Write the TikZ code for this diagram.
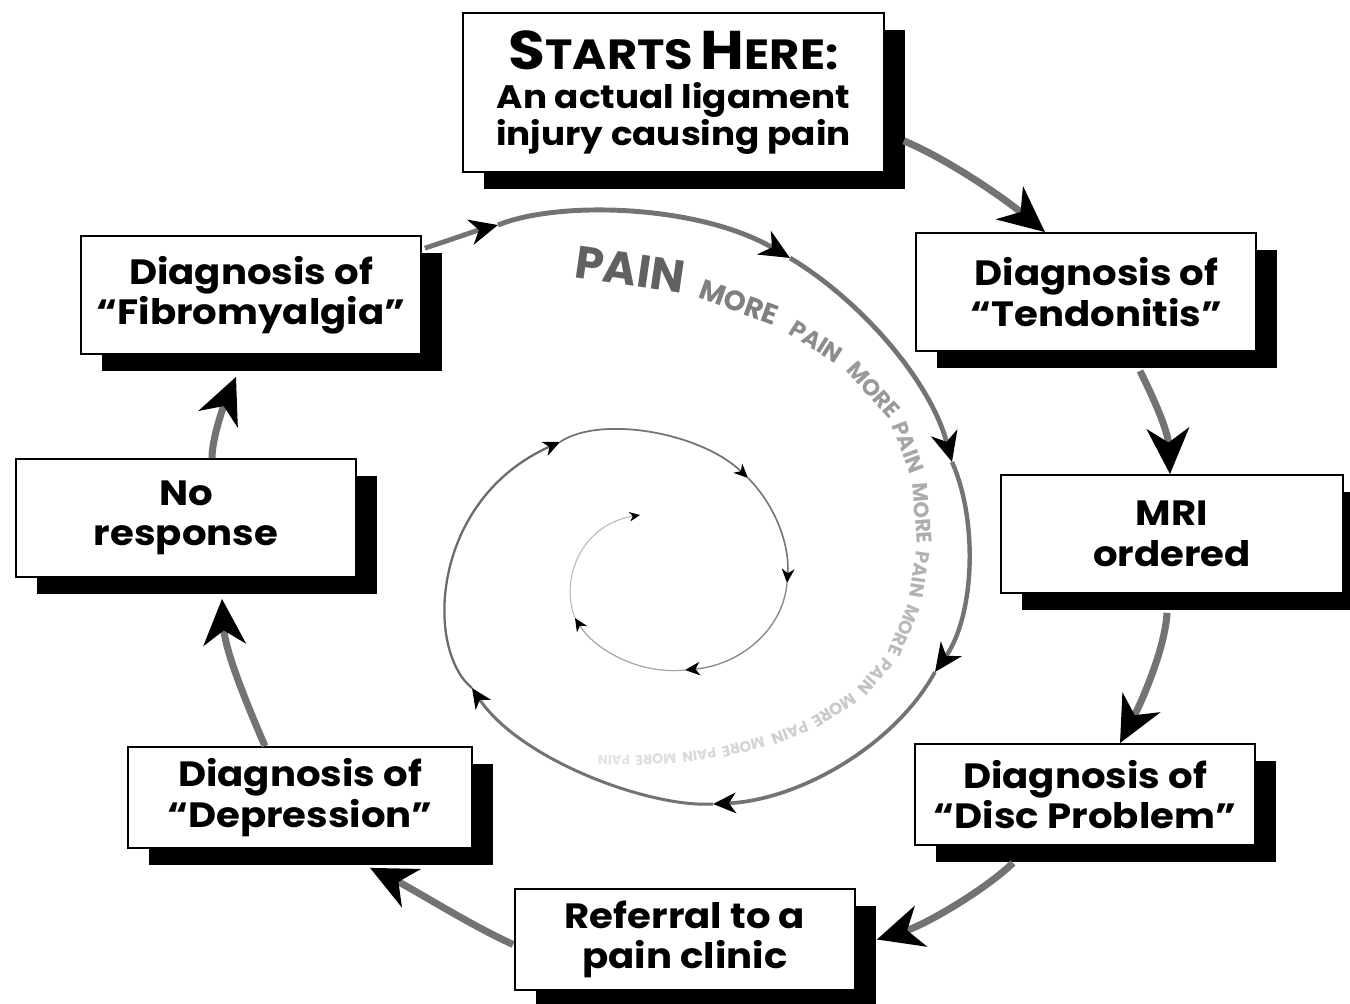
\documentclass[tikz,border=0pt]{standalone}
\usepackage{fontspec}
\setmainfont{Poppins}
\newfontfamily\bx{Poppins}[FakeStretch=1.1]
\usetikzlibrary{arrows.meta,shadows,decorations.markings}
\definecolor{lin}{gray}{0.45}
\begin{document}
\begin{tikzpicture}[x=0.02cm,y=-0.02cm,
  box/.style={draw=black,line width=1pt,fill=white,align=center,inner sep=0pt,
    font=\bx\bfseries\fontsize{20}{23}\selectfont,
    drop shadow={shadow xshift=12pt,shadow yshift=-9.7pt,opacity=1,fill=black}},
  conn/.style={draw=lin,line width=4pt,-{Stealth[length=26pt,width=24pt,inset=8pt,color=black]}},
  sp/.style 2 args={draw=#2,line width=#1},
  sa/.style={-{Stealth[length=10pt,width=9pt,inset=3pt,scale=#1,color=black]}},
  spt/.style 2 args={transform shape,anchor=base,inner sep=0pt,font=\bfseries\fontsize{#1}{#1}\selectfont,text=#2},
]
\fill[white] (0,0) rectangle (1350,1004);
\useasboundingbox (0,0) rectangle (1350,1004);

% boxes
\node[box,minimum width=8.42cm,minimum height=3.18cm,font=\bx\bfseries\fontsize{18.5}{21}\selectfont] (start) at (673.5,92.5)
  {{\fontsize{31}{30}\selectfont S}{\fontsize{24}{23}\selectfont TARTS} {\fontsize{31}{30}\selectfont H}{\fontsize{24}{23}\selectfont ERE:}\\[1pt]An actual ligament\\injury causing pain};
\node[box,minimum width=6.8cm,minimum height=2.36cm] (tend) at (1086,292) {\hspace*{12pt}Diagnosis of\\\hspace*{12pt}“Tendonitis”};
\node[box,minimum width=6.84cm,minimum height=2.36cm] (mri) at (1172,534) {MRI\\ordered};
\node[box,minimum width=6.8cm,minimum height=2.02cm] (disc) at (1085,794.5) {Diagnosis of\\“Disc Problem”};
\node[box,minimum width=6.8cm,minimum height=2.02cm] (ref) at (685,939.5) {Referral to a\\pain clinic};
\node[box,minimum width=6.88cm,minimum height=2.02cm] (dep) at (300,797.5) {Diagnosis of\\“Depression”};
\node[box,minimum width=6.8cm,minimum height=2.36cm] (nores) at (186,518) {No\\response};
\node[box,minimum width=6.8cm,minimum height=2.36cm] (fib) at (251,295) {Diagnosis of\\“Fibromyalgia”};

% connectors between boxes
\draw[conn] ([shift={(19,-32)}]start.south east) .. controls (945,158) and (1000,195) .. ([shift={(-41,0)}]tend.north);
\draw[conn] ([shift={(54,19)}]tend.south) .. controls (1152,395) and (1168,430) .. ([shift={(-2,0)}]mri.north);
\draw[conn] ([shift={(-5,19)}]mri.south) .. controls (1165,650) and (1140,705) .. ([shift={(35,0)}]disc.north);
\draw[conn] ([shift={(-72,17)}]disc.south) .. controls (985,890) and (925,925) .. ([shift={(21,0)}]ref.east);
\draw[conn] ([shift={(-1,5)}]ref.west) .. controls (470,925) and (415,890) .. ([shift={(70,19)}]dep.south);
\draw[conn] ([shift={(-35,0)}]dep.north) .. controls (245,700) and (225,650) .. ([shift={(36,21)}]nores.south);
\draw[conn] ([shift={(26,0)}]nores.north) .. controls (212,440) and (222,410) .. ([shift={(-15,22)}]fib.south);

% spiral
\coordinate (s0) at ([shift={(3,13)}]fib.north east);
\coordinate (s1) at (498,225);
\coordinate (s2) at (790,258);
\coordinate (s3) at (952,462);
\coordinate (s4) at (935,672);
\coordinate (s5) at (713,804);
\coordinate (s6) at (472,688);
\coordinate (s7) at (560,442);
\coordinate (s8) at (748,478);
\coordinate (s9) at (787,583);
\coordinate (s10) at (685,670);
\coordinate (s11) at (575,618);
\coordinate (s12) at (640,515);
\draw[sp={2.8pt}{lin},sa=1.6] (s0) .. controls (450,240) and (475,231) .. (s1);
\draw[sp={2.8pt}{lin},sa=1.7] (s1) .. controls (560,200) and (700,205) .. (s2);
\draw[sp={2.7pt}{lin},sa=1.7] (s2) .. controls (860,300) and (930,380) .. (s3);
\draw[sp={2.5pt}{lin},sa=1.6] (s3) .. controls (978,520) and (975,615) .. (s4);
\draw[sp={2.1pt}{lin},sa=1.3] (s4) .. controls (895,745) and (800,800) .. (s5);
\draw[sp={1.7pt}{lin},sa=1.15] (s5) .. controls (650,808) and (520,760) .. (s6);
\draw[sp={1.3pt}{black!58},sa=0.95] (s6) .. controls (425,650) and (430,500) .. (s7);
\draw[sp={1pt}{black!55},sa=0.8] (s7) .. controls (600,415) and (700,432) .. (s8);
\draw[sp={0.9pt}{black!55},sa=0.8] (s8) .. controls (775,505) and (790,545) .. (s9);
\draw[sp={0.8pt}{black!45},sa=0.85] (s9) .. controls (783,630) and (740,665) .. (s10);
\draw[sp={0.7pt}{black!35},sa=0.75] (s10) .. controls (640,675) and (595,650) .. (s11);
\draw[sp={0.6pt}{black!28},sa=0.6] (s11) .. controls (560,580) and (580,525) .. (s12);

% spiral text
\path[decoration={markings,
  mark=at position 0.058 with {\node[spt={26}{black!62}] (w1) {PAIN};},
  mark=at position 0.178 with {\node[spt={16}{black!50}] (w2) {MORE};},
  mark=at position 0.270 with {\node[spt={13.5}{black!45}] (w3) {PAIN};},
  mark=at position 0.349 with {\node[spt={13}{black!40}] (w4) {MORE};},
  mark=at position 0.419 with {\node[spt={12.5}{black!35}] (w5) {PAIN};},
  mark=at position 0.490 with {\node[spt={12}{black!32}] (w6) {MORE};},
  mark=at position 0.555 with {\node[spt={11}{black!30}] (w7) {PAIN};},
  mark=at position 0.616 with {\node[spt={10.5}{black!27}] (w8) {MORE};},
  mark=at position 0.673 with {\node[spt={10}{black!24}] (w9) {PAIN};},
  mark=at position 0.729 with {\node[spt={9.5}{black!21}] (w10) {MORE};},
  mark=at position 0.782 with {\node[spt={9}{black!19}] (w11) {PAIN};},
  mark=at position 0.834 with {\node[spt={8.5}{black!17}] (w12) {MORE};},
  mark=at position 0.882 with {\node[spt={8}{black!15}] (w13) {PAIN};},
  mark=at position 0.929 with {\node[spt={8}{black!13}] (w14) {MORE};},
  mark=at position 0.974 with {\node[spt={7.5}{black!11}] (w15) {PAIN};}
  },decorate]
  (575,280) .. controls (700,288) and (820,330) .. (880,410)
  .. controls (930,480) and (925,600) .. (880,660)
  .. controls (830,730) and (720,760) .. (590,755);
\end{tikzpicture}
\end{document}
